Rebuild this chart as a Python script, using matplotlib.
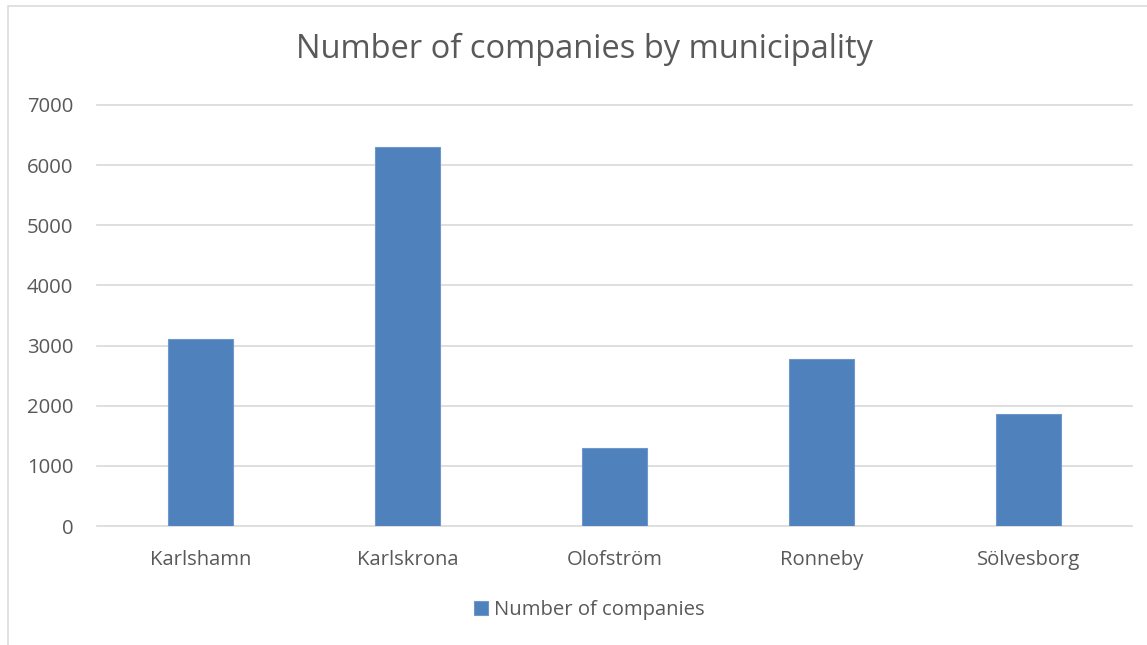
import matplotlib
matplotlib.use("Agg")
import matplotlib.pyplot as plt
from matplotlib.patches import Rectangle
import numpy as np

municipalities = ["Karlshamn", "Karlskrona", "Olofström", "Ronneby", "Sölvesborg"]
companies = [3110, 6300, 1290, 2770, 1870]
y_ticks = [0, 1000, 2000, 3000, 4000, 5000, 6000, 7000]
series_name = "Number of companies"
title = "Number of companies by municipality"

text_color = "#595959"
bar_color = "#4F81BD"
grid_color = "#D9D9D9"

plt.rcParams["font.family"] = ["Open Sans", "DejaVu Sans"]

W, H = 1147, 645
fig = plt.figure(figsize=(W / 100, H / 100), dpi=100)
fig.patch.set_facecolor("white")

# chart-area outline
fig.add_artist(Rectangle((8 / W, -0.1), 1.2, 1.1 - 6 / H, transform=fig.transFigure,
                         fill=False, edgecolor=grid_color, linewidth=1.1))

ax = fig.add_axes([97 / W, (H - 526) / H, 1035 / W, 421 / H])
x = np.arange(len(municipalities))
bars = ax.bar(x, companies, width=0.313, color=bar_color, edgecolor="#6F97CB",
              linewidth=0.8, label=series_name, zorder=3)

ax.set_xlim(-0.5, len(municipalities) - 0.5)
ax.set_ylim(0, 7000)
ax.set_yticks(y_ticks)
ax.set_yticklabels([str(v) for v in y_ticks])
ax.set_xticks(x)
ax.set_xticklabels(municipalities)

for v in y_ticks:
    ax.axhline(v, color=grid_color, linewidth=1.2, zorder=1, clip_on=False)

for s in ax.spines.values():
    s.set_visible(False)
ax.tick_params(axis="both", length=0, labelsize=14.6, colors=text_color)
ax.tick_params(axis="y", pad=17)
ax.tick_params(axis="x", pad=17)

fig.text(585 / W, 1 - 49 / H, title, ha="center", va="center",
         fontsize=23.5, color=text_color)

ax.legend(handles=[bars], labels=[series_name], loc="center",
          bbox_to_anchor=(589 / W, 1 - 610 / H), bbox_transform=fig.transFigure,
          frameon=False, handlelength=0.7, handleheight=0.7, handletextpad=0.3,
          prop={"size": 14.6}, labelcolor=text_color)

fig.savefig("out.png", dpi=100, facecolor="white")
